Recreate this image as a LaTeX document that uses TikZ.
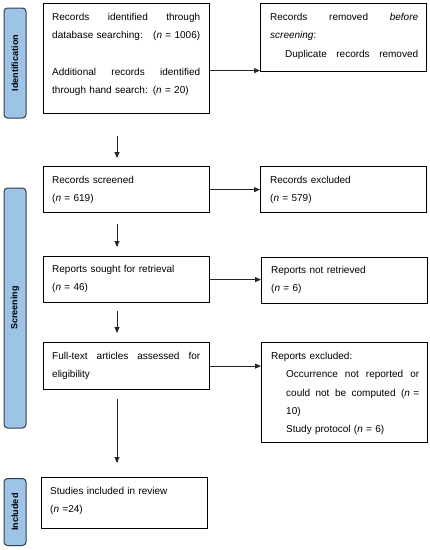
\documentclass[tikz,border=0pt]{standalone}
\usepackage{fontspec}
\setmainfont{Liberation Sans}
\usetikzlibrary{arrows.meta}
\definecolor{stageblue}{RGB}{157,195,230}
\definecolor{stageedge}{RGB}{55,60,70}
\begin{document}
\begin{tikzpicture}[x=1pt,y=-1pt,
  boxshape/.style={draw=black, line width=1.2pt, anchor=north west, inner sep=0pt},
  boxtext/.style={anchor=north west, inner sep=0pt, text width=148pt, align=left,
    font=\fontsize{10}{18.3}\selectfont},
  stage/.style={draw=stageedge, line width=1pt, fill=stageblue, rounded corners=3.5pt,
    rotate=90, font=\fontsize{9}{10}\selectfont\bfseries, inner sep=0pt},
  arr/.style={draw=black!85, line width=0.8pt, -{Triangle[length=6pt,width=5pt]}}]
\path[fill=white, use as bounding box] (0,0) rectangle (430,550);

% stage labels
\node[stage, minimum width=110pt, minimum height=22pt] (sid) at (15,63) {Identification};
\node[stage, minimum width=240pt, minimum height=22pt] (sscr) at (15,308) {Screening};
\node[stage, minimum width=67pt, minimum height=22pt] (sinc) at (15,512) {Included};

% boxes
\node[boxshape, minimum width=166pt, minimum height=110pt] (b1) at (43,3) {};
\node[boxshape, minimum width=166pt, minimum height=68pt] (b2) at (260,3) {};
\node[boxshape, minimum width=166pt, minimum height=46pt] (b3) at (43,166) {};
\node[boxshape, minimum width=166pt, minimum height=46pt] (b4) at (260,166) {};
\node[boxshape, minimum width=166pt, minimum height=46pt] (b5) at (43,256) {};
\node[boxshape, minimum width=166pt, minimum height=46pt] (b6) at (261,257) {};
\node[boxshape, minimum width=166pt, minimum height=47pt] (b7) at (43,342) {};
\node[boxshape, minimum width=166pt, minimum height=100pt] (b8) at (261,342) {};
\node[boxshape, minimum width=166pt, minimum height=51pt] (b9) at (41,477) {};

% texts
\node[boxtext] (t1) at ([xshift=9pt,yshift=-10pt]b1.north west)
  {Records\hfill identified\hfill through\\
   database searching:\hfill(\textit{n} = 1006)\\[18.3pt]
   Additional\hfill records\hfill identified\\
   through hand search: (\textit{n} = 20)};
\node[boxtext] (t2) at ([xshift=10pt,yshift=-10pt]b2.north west)
  {Records\hfill removed\hfill \textit{before}\\
   \textit{screening}:\\
   \hspace*{15pt}Duplicate\hfill records\hfill removed};
\node[boxtext] (t3) at ([xshift=9pt,yshift=-10pt]b3.north west)
  {Records screened\\(\textit{n} = 619)};
\node[boxtext] (t4) at ([xshift=10pt,yshift=-10pt]b4.north west)
  {Records excluded\\(\textit{n} = 579)};
\node[boxtext] (t5) at ([xshift=9pt,yshift=-9pt]b5.north west)
  {Reports sought for retrieval\\(\textit{n} = 46)};
\node[boxtext] (t6) at ([xshift=10pt,yshift=-9pt]b6.north west)
  {Reports not retrieved\\(\textit{n} = 6)};
\node[boxtext] (t7) at ([xshift=9pt,yshift=-10pt]b7.north west)
  {Full-text\hfill articles\hfill assessed\hfill for\\eligibility};
\node[boxtext] (t8) at ([xshift=10pt,yshift=-10pt]b8.north west)
  {Reports excluded:\\
   \hspace*{15pt}Occurrence\hfill not\hfill reported\hfill or\\
   \hspace*{15pt}could\hfill not\hfill be\hfill computed\hfill (\textit{n} =\\
   \hspace*{15pt}10)\\
   \hspace*{15pt}Study protocol (\textit{n} = 6)};
\node[boxtext] (t9) at ([xshift=9pt,yshift=-10pt]b9.north west)
  {Studies included in review\\(\textit{n} =24)};

% horizontal arrows
\coordinate (h1) at ([yshift=-12pt]b1.east);
\draw[arr] (h1) -- (h1 -| b2.west);
\draw[arr] (b3.east) -- (b3.east -| b4.west);
\draw[arr] (b5.east) -- (b5.east -| b6.west);
\draw[arr] (b7.east) -- (b7.east -| b8.west);

% vertical arrows
\coordinate (v1) at ([xshift=74pt]b1.south west);
\coordinate (v2) at ([xshift=74pt]b3.south west);
\coordinate (v3) at ([xshift=74pt]b5.south west);
\coordinate (v4) at ([xshift=74pt]b7.south west);
\draw[arr, shorten <=22pt, shorten >=8pt] (v1) -- (v1 |- b3.north);
\draw[arr, shorten <=11pt, shorten >=9pt] (v2) -- (v2 |- b5.north);
\draw[arr, shorten <=8pt, shorten >=9pt] (v3) -- (v3 |- b7.north);
\draw[arr, shorten <=9pt, shorten >=14pt] (v4) -- (v4 |- b9.north);
\end{tikzpicture}
\end{document}
